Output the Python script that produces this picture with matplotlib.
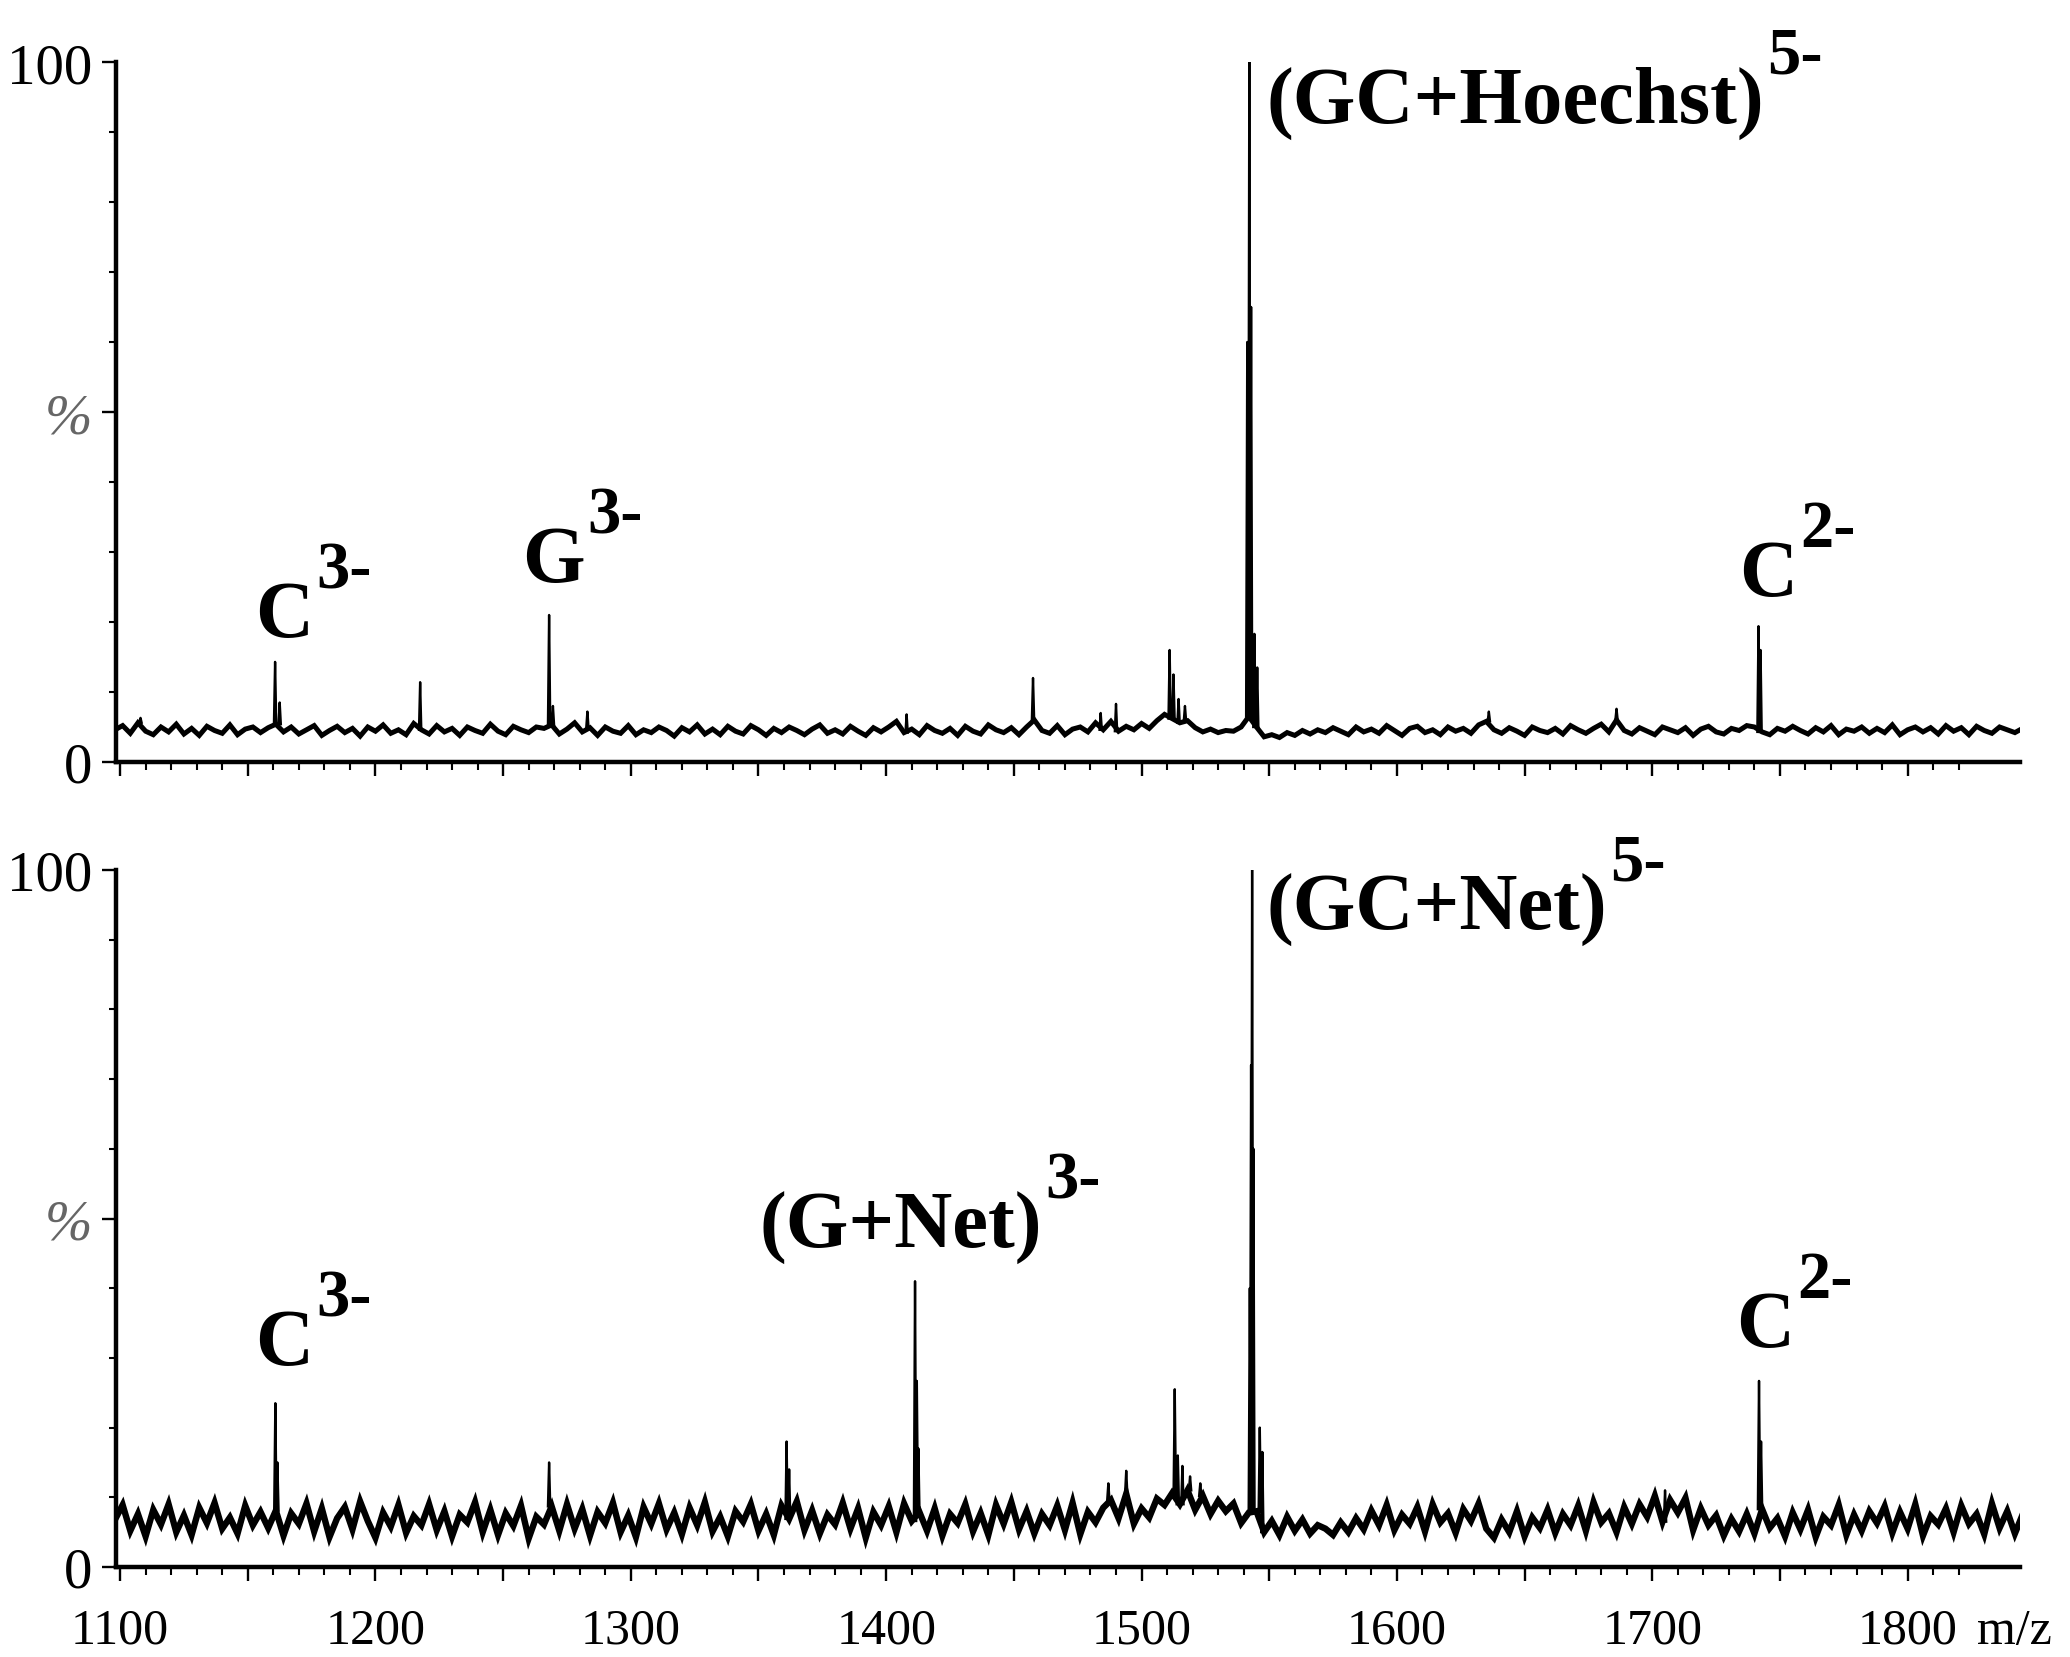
import numpy as np
import matplotlib
matplotlib.use("Agg")
import matplotlib.pyplot as plt
from matplotlib.ticker import FixedLocator, FuncFormatter

plt.rcParams['font.family'] = 'Liberation Serif'

# baseline, one value every 3 m/z starting at 1098
grid_start = 1098
grid_step = 3

base_top = [
    4.6, 5.2, 4.1, 5.6, 4.4, 3.9, 5.0, 4.3, 5.4, 4.0,
    4.8, 3.8, 5.1, 4.5, 4.1, 5.3, 3.9, 4.7, 5.0, 4.2,
    4.9, 5.4, 4.3, 5.0, 4.0, 4.6, 5.2, 3.8, 4.5, 5.1,
    4.2, 4.8, 3.7, 5.0, 4.4, 5.3, 4.1, 4.6, 3.9, 5.5,
    4.6, 4.0, 5.2, 4.3, 4.8, 3.8, 5.0, 4.5, 4.1, 5.4,
    4.4, 3.9, 5.1, 4.6, 4.2, 5.0, 4.8, 5.3, 4.0, 4.7,
    5.6, 4.3, 4.9, 3.8, 5.0, 4.4, 4.1, 5.2, 3.9, 4.6,
    4.2, 5.0, 4.5, 3.7, 4.9, 4.3, 5.3, 4.0, 4.7, 3.9,
    5.1, 4.4, 4.0, 5.2, 4.6, 3.8, 4.8, 4.2, 5.0, 4.5,
    3.9, 4.7, 5.3, 4.1, 4.6, 4.0, 5.1, 4.4, 3.8, 4.9,
    4.3, 5.0, 5.8, 4.2, 4.7, 3.9, 5.2, 4.5, 4.1, 4.8,
    3.8, 5.1, 4.4, 4.0, 5.3, 4.6, 4.2, 4.9, 3.9, 5.0,
    6.0, 4.5, 4.1, 5.2, 3.9, 4.7, 5.0, 4.3, 5.6, 4.6,
    5.8, 4.4, 5.1, 4.6, 5.5, 4.8, 5.9, 6.8, 6.2, 5.6,
    5.9, 4.9, 4.3, 4.7, 4.2, 4.5, 4.4, 5.0, 6.5, 5.0,
    3.6, 3.9, 3.5, 4.2, 3.8, 4.5, 4.0, 4.6, 4.2, 4.9,
    4.4, 3.9, 5.0, 4.3, 4.7, 4.1, 5.2, 4.5, 3.8, 4.8,
    5.1, 4.2, 4.6, 3.9, 5.0, 4.4, 4.8, 4.1, 5.3, 5.8,
    4.6, 4.1, 4.9, 4.4, 3.8, 5.0, 4.5, 4.2, 4.8, 4.0,
    5.2, 4.6, 4.1, 4.8, 5.4, 4.3, 6.0, 4.5, 4.0, 4.9,
    4.4, 3.9, 5.0, 4.6, 4.2, 4.9, 3.8, 4.7, 5.1, 4.3,
    4.0, 4.8, 4.5, 5.2, 5.0, 4.3, 3.9, 4.8, 4.4, 5.1,
    4.5, 4.0, 4.9, 4.3, 5.2, 3.9, 4.7, 4.4, 5.0, 4.1,
    4.8, 4.2, 5.3, 3.9, 4.6, 5.0, 4.3, 4.9, 4.0, 5.2,
    4.4, 4.9, 3.9, 5.1, 4.5, 4.1, 5.0, 4.6, 4.2, 4.8,
]

base_bot = [
    6.8, 8.9, 5.2, 7.6, 4.4, 8.2, 6.1, 9.0, 5.0, 7.4,
    4.6, 8.5, 6.3, 9.2, 5.5, 7.1, 4.8, 8.8, 6.0, 7.9,
    5.6, 8.1, 4.5, 7.7, 6.2, 9.1, 5.1, 8.4, 4.3, 7.0,
    8.6, 5.4, 9.4, 6.6, 4.2, 7.8, 5.8, 8.9, 4.9, 7.3,
    6.0, 9.0, 5.3, 8.0, 4.4, 7.5, 6.4, 9.3, 5.0, 8.2,
    4.6, 7.7, 5.9, 8.8, 4.1, 7.2, 6.1, 8.7, 5.2, 9.0,
    5.5, 8.3, 4.5, 7.9, 6.3, 9.2, 5.0, 7.4, 4.3, 8.6,
    6.2, 9.1, 5.4, 7.8, 4.7, 8.5, 6.0, 9.3, 5.1, 7.2,
    4.4, 8.0, 6.5, 9.0, 5.2, 7.6, 4.6, 8.8, 6.9, 9.4,
    5.3, 8.1, 4.8, 7.5, 6.1, 9.2, 5.5, 8.4, 4.2, 7.9,
    6.0, 8.7, 5.0, 9.1, 6.6, 7.9, 5.2, 8.4, 4.5, 7.6,
    6.3, 9.0, 5.1, 7.7, 4.6, 8.9, 6.2, 9.3, 5.4, 8.0,
    4.8, 7.6, 6.0, 8.8, 5.3, 9.2, 4.7, 7.9, 6.4, 8.5,
    9.6, 7.0, 10.5, 6.2, 8.4, 7.1, 9.8, 8.9, 10.6, 9.0,
    11.0, 8.2, 10.2, 7.6, 9.5, 8.0, 9.1, 6.3, 7.8, 8.0,
    5.0, 6.6, 4.6, 7.2, 5.2, 6.8, 4.8, 6.0, 5.5, 4.6,
    6.4, 5.0, 7.0, 5.4, 8.1, 6.0, 8.9, 5.3, 7.5, 6.2,
    8.6, 5.1, 9.0, 6.4, 7.7, 4.9, 8.3, 6.6, 9.1, 5.5,
    4.2, 6.8, 5.0, 8.0, 4.4, 7.1, 5.6, 8.2, 4.9, 7.6,
    6.0, 8.8, 5.2, 9.3, 6.4, 7.7, 5.0, 8.6, 6.2, 9.0,
    7.2, 10.2, 6.5, 9.6, 7.8, 9.9, 5.3, 8.4, 6.0, 7.4,
    4.5, 6.9, 5.1, 7.6, 4.8, 8.3, 5.6, 7.0, 4.4, 7.8,
    5.4, 8.2, 4.3, 7.2, 6.0, 8.9, 4.6, 7.5, 5.2, 8.0,
    6.3, 8.7, 4.9, 7.9, 5.5, 9.0, 4.5, 7.3, 6.1, 8.4,
    5.0, 8.8, 6.2, 7.6, 4.7, 9.1, 5.6, 8.0, 4.8, 7.5,
]

# peaks (m/z, relative intensity %)
peak_mz_top = [1108, 1160.7, 1162.5, 1217.5, 1268, 1269.5, 1283, 1408, 1457.5,
               1484, 1490, 1511, 1512.5, 1514.5, 1517, 1541.4, 1542.2, 1542.9,
               1544.2, 1545.3, 1636, 1686, 1741.6, 1742.4]
peak_int_top = [6.3, 14.3, 8.5, 11.4, 21.0, 8.0, 7.2, 6.8, 12.0,
                7.0, 8.3, 16.0, 12.5, 9.0, 8.0, 60.0, 100.0, 65.0,
                18.3, 13.5, 7.2, 7.6, 19.4, 16.0]

peak_mz_bot = [1160.8, 1161.6, 1268, 1361, 1362, 1411.3, 1412, 1412.6, 1487,
               1494, 1513, 1514.2, 1516, 1519, 1523, 1542.4, 1542.9, 1543.3,
               1543.8, 1546.3, 1547.3, 1705, 1741.8, 1742.6]
peak_int_bot = [23.5, 15.0, 15.0, 18.0, 14.0, 41.0, 26.7, 17.0, 12.0,
                13.8, 25.5, 16.0, 14.5, 13.0, 12.0, 40.0, 72.0, 100.0,
                60.0, 20.0, 16.5, 11.0, 26.7, 18.0]

# peak labels: name, charge, m/z of left edge, baseline height (%)
names_top = ["C", "G", "(GC+Hoechst)", "C"]
charges_top = ["3-", "3-", "5-", "2-"]
name_x_top = [1153, 1257.5, 1549, 1734]
name_y_top = [18.0, 25.8, 91.5, 23.9]

names_bot = ["C", "(G+Net)", "(GC+Net)", "C"]
charges_bot = ["3-", "3-", "5-", "2-"]
name_x_bot = [1153, 1350.5, 1549, 1733]
name_y_bot = [29.1, 46.0, 91.6, 31.7]

tick_vals = [1100, 1200, 1300, 1400, 1500, 1600, 1700, 1800]


def peak_segments(base, pk_mz, pk_int, hw=0.45):
    base = np.asarray(base, dtype=float)
    grid = grid_start + grid_step * np.arange(len(base))
    xs, ys = [], []
    for m, h in zip(pk_mz, pk_int):
        foot = base[np.argmin(np.abs(grid - m))]
        xs += [m - hw, m, m + hw, np.nan]
        ys += [foot, h, foot, np.nan]
    return grid, base, np.array(xs), np.array(ys)


fig = plt.figure(figsize=(20.7, 16.58), dpi=100)
W, H = 2070, 1658
ax1 = fig.add_axes([116 / W, (H - 763) / H, (2020 - 116) / W, 700 / H])
ax2 = fig.add_axes([116 / W, (H - 1568) / H, (2020 - 116) / W, 697 / H])

panels = [
    (ax1, base_top, peak_mz_top, peak_int_top, names_top, charges_top, name_x_top, name_y_top, 3.6),
    (ax2, base_bot, peak_mz_bot, peak_int_bot, names_bot, charges_bot, name_x_bot, name_y_bot, 4.6),
]

renderer = fig.canvas.get_renderer()

for ax, base, pmz, pint, names, charges, nx, ny, blw in panels:
    gx, gy, px, py = peak_segments(base, pmz, pint)
    ax.plot(gx, gy, color='black', lw=blw, solid_joinstyle='miter')
    ax.plot(px, py, color='black', lw=1.7)

    ax.set_xlim(1098.4, 1844)
    ax.set_ylim(0, 100)
    for s in ['top', 'right']:
        ax.spines[s].set_visible(False)
    for s in ['left', 'bottom']:
        ax.spines[s].set_linewidth(3.2)

    ax.xaxis.set_major_locator(FixedLocator(np.arange(1100, 1801, 50)))
    ax.xaxis.set_minor_locator(FixedLocator(np.arange(1100, 1821, 10)))
    ax.xaxis.set_major_formatter(FuncFormatter(
        lambda v, p: f"{int(round(v))}" if int(round(v)) in tick_vals else ""))
    ax.tick_params(axis='x', which='major', direction='out', length=10, width=1.7,
                   labelsize=36, pad=19)
    ax.tick_params(axis='x', which='minor', direction='out', length=6, width=1.5)

    ax.set_yticks([0, 50, 100])
    ax.set_yticklabels(['0', '%', '100'])
    ax.yaxis.set_minor_locator(FixedLocator(np.arange(10, 100, 10)))
    ax.tick_params(axis='y', which='major', direction='out', length=10, width=1.7,
                   labelsize=41, pad=7)
    ax.tick_params(axis='y', which='minor', direction='out', length=5, width=1.5)
    pct = ax.get_yticklabels()[1]
    pct.set_color('0.4')
    pct.set_fontstyle('italic')

    for name, ch, tx, ty in zip(names, charges, nx, ny):
        t = ax.text(tx, ty, name, fontsize=58, fontweight='bold',
                    ha='left', va='baseline')
        w = t.get_window_extent(renderer).width * 72 / fig.dpi
        ax.annotate(ch, xy=(tx, ty), xycoords='data',
                    xytext=(w + 2, 35), textcoords='offset points',
                    fontsize=48, fontweight='bold', ha='left', va='baseline')

ax1.tick_params(axis='x', which='both', labelbottom=False)

ax2.annotate('m/z', xy=(1827, 0), xycoords=('data', 'axes fraction'),
             xytext=(0, -29), textcoords='offset points',
             fontsize=36, ha='left', va='top')

fig.savefig('out.png', dpi=100, facecolor='white')
